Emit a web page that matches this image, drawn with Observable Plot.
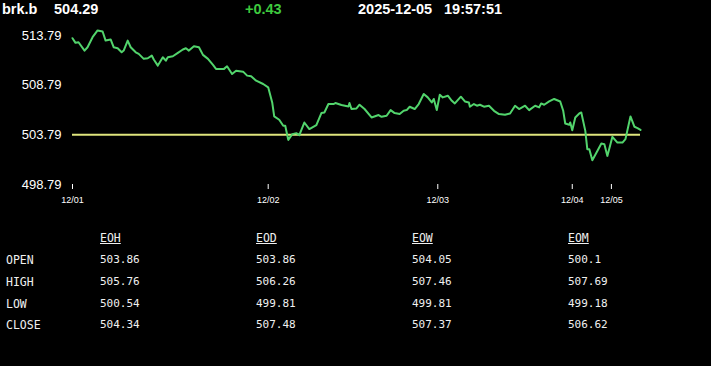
<!DOCTYPE html>
<html><head><meta charset="utf-8">
<script src="https://cdn.jsdelivr.net/npm/d3@7"></script>
<script src="https://cdn.jsdelivr.net/npm/@observablehq/plot@0.6"></script>
<style>
html,body{margin:0;padding:0;background:#000;width:711px;height:366px;overflow:hidden;}
#wrap{position:relative;width:711px;height:366px;}
.h{position:absolute;top:0;font:bold 14.5px "Liberation Sans",Arial,sans-serif;color:#fff;line-height:18px;white-space:pre;}
#chart{position:absolute;left:0;top:20px;}
.t{position:absolute;font:11px "DejaVu Sans Mono",monospace;color:#f0f0f0;white-space:pre;line-height:14px;}
.t.u{text-decoration:underline;font-size:11.5px;}
.t.r{font-size:11.5px;}
</style></head><body><div id="wrap"></div>
<script>
const symbol = "brk.b";
const lastPrice = "504.29";
const change = "+0.43";
const dateStr = "2025-12-05";
const timeStr = "19:57:51";
const prevClose = 503.79;

const idx = [0,3,6,12,15,20,25,30,33,38,41,45,49,51,55,58,63,66,71,75,79,81,85,87,90,93,95,100,105,110,113,116,121,126,130,135,140,143,151,154,159,163,170,174,178,183,190,195,199,201,206,210,212,215,219,223,226,231,236,243,248,251,255,260,262,268,275,276,278,283,286,291,298,305,308,313,317,321,326,330,333,336,341,345,350,354,358,360,363,366,369,374,378,381,387,391,395,396,400,403,406,410,415,420,425,431,436,441,445,451,455,461,465,467,470,475,480,486,489,491,495,496,498,501,505,507,511,513,515,518,523,527,530,533,538,543,548,551,556,560,563,566];
const price = [513.52,513.05,513.11,512.27,512.61,513.62,514.30,514.19,513.28,513.39,512.61,512.51,512.10,512.27,513.28,512.61,512.10,511.94,511.44,511.50,511.77,511.37,510.76,511.09,511.60,511.26,511.60,511.70,512.04,512.38,512.51,512.27,512.71,512.61,511.84,511.44,510.83,510.43,510.43,510.69,509.92,510.25,510.15,509.75,509.68,509.24,508.91,508.57,507.05,505.64,505.31,504.70,504.70,503.28,503.86,503.96,503.76,505.03,504.37,504.77,505.98,506.04,506.89,506.89,506.99,506.79,506.65,506.99,506.39,506.45,506.82,506.39,505.54,505.78,505.61,505.71,506.28,505.98,505.88,506.21,506.28,506.62,506.39,506.89,507.90,507.56,507.05,507.40,506.28,507.83,507.56,507.73,507.22,506.95,507.63,507.15,507.05,506.62,506.89,506.72,506.82,506.62,506.72,506.21,505.88,505.81,505.94,506.72,506.39,506.72,506.28,506.72,506.55,506.95,506.82,507.15,507.40,507.15,506.21,504.93,504.80,505.03,504.26,505.54,505.94,506.04,504.19,502.35,502.35,501.23,502.17,502.91,502.85,501.67,503.59,503.01,503.01,503.36,505.64,504.60,504.47,504.29];

const xTickIdx = [0,195,364,498,537];
const xTickLabels = ["12/01","12/02","12/03","12/04","12/05"];
const yTicks = [498.79,503.79,508.79,513.79];

const periods = ["EOH","EOD","EOW","EOM"];
const fields = ["OPEN","HIGH","LOW","CLOSE"];
const openVals  = ["503.86","503.86","504.05","500.1"];
const highVals  = ["505.76","506.26","507.46","507.69"];
const lowVals   = ["500.54","499.81","499.81","499.18"];
const closeVals = ["504.34","507.48","507.37","506.62"];

const wrap = document.getElementById("wrap");
function addText(cls, txt, x, y, color){
  const s = document.createElement("div");
  s.className = cls; s.textContent = txt;
  s.style.left = x + "px"; s.style.top = y + "px";
  if (color) s.style.color = color;
  wrap.appendChild(s);
}
addText("h", symbol, 2, 0);
addText("h", lastPrice, 54, 0);
addText("h", change, 245, 0, "#3ec93e");
addText("h", dateStr, 358, 0);
addText("h", timeStr, 444, 0);

const data = idx.map((n,i)=>({n, p: price[i]}));
const chart = Plot.plot({
  width: 711, height: 195,
  marginLeft: 72, marginRight: 71, marginTop: 15, marginBottom: 31,
  style: {background: "transparent", color: "#fff", fontFamily: "'Liberation Sans', Arial, sans-serif"},
  x: {domain: [0, 566]},
  y: {domain: [498.79, 513.79]},
  marks: [
    Plot.axisY({ticks: yTicks, tickSize: 0, tickPadding: 11, tickFormat: d => d.toFixed(2), fontSize: 13, anchor: "left", label: null}),
    Plot.axisX({ticks: xTickIdx, tickFormat: d => xTickLabels[xTickIdx.indexOf(d)], tickSize: 5, tickPadding: 7, fontSize: 9, label: null}),
    Plot.ruleY([prevClose], {x1: 0, x2: 566, stroke: "#dfe57d", strokeWidth: 2}),
    Plot.line(data, {x: "n", y: "p", stroke: "#52d46c", strokeWidth: 2})
  ]
});
chart.id = "chart";
wrap.appendChild(chart);

const colX = [100, 256, 412, 568];
const rowY = [253, 275, 297, 318];
const rows = [openVals, highVals, lowVals, closeVals];
periods.forEach((p,i)=> addText("t u", p, colX[i], 231));
fields.forEach((f,r)=>{
  addText("t r", f, 6, rowY[r]);
  rows[r].forEach((v,c)=> addText("t", v, colX[c], rowY[r]));
});
</script></body></html>
